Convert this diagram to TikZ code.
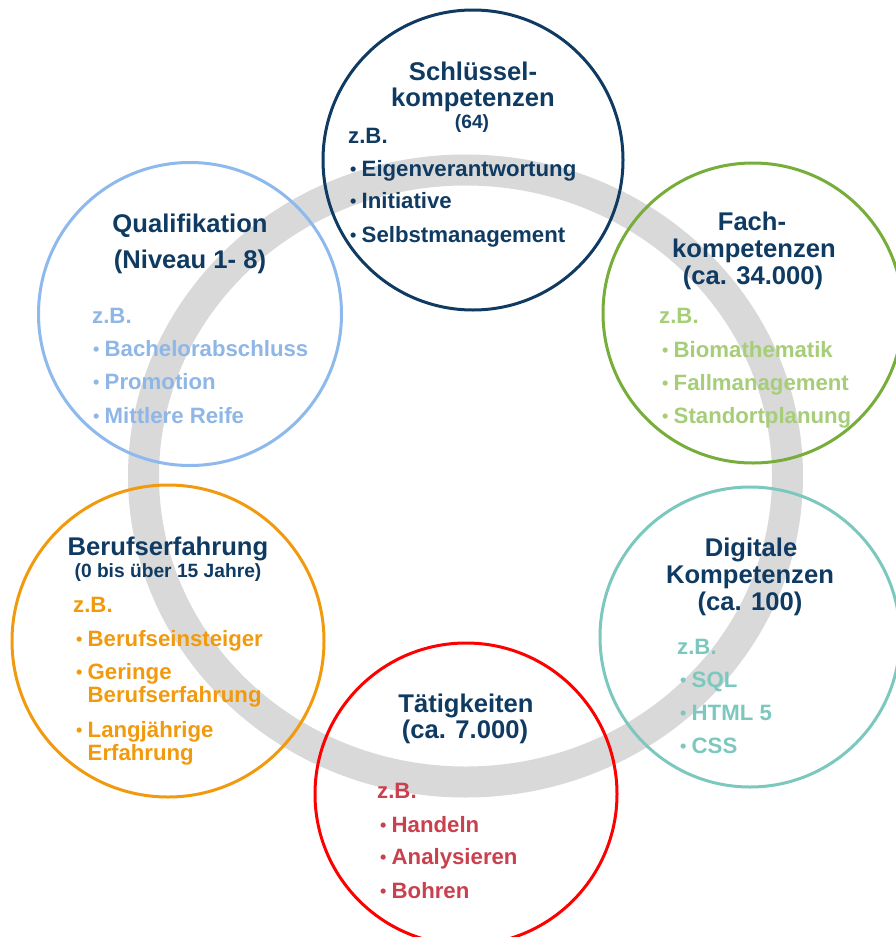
\documentclass[tikz,border=0pt]{standalone}
\usepackage{fontspec}
\setmainfont{Liberation Sans}
\definecolor{navy}{HTML}{0F3B63}
\definecolor{ringgray}{HTML}{D9D9D9}
\definecolor{qblue}{HTML}{8DB9EC}
\definecolor{qtext}{HTML}{8EB6E6}
\definecolor{fgreen}{HTML}{77AD3A}
\definecolor{ftext}{HTML}{A6CE78}
\definecolor{borange}{HTML}{F29A0E}
\definecolor{dteal}{HTML}{7CC8BF}
\definecolor{tred}{HTML}{FF0000}
\definecolor{ttext}{HTML}{C9404E}
\newcommand{\bul}{\makebox[11.5pt][l]{\fontsize{18}{18}\selectfont\raisebox{1pt}{•}}}
\begin{document}
\begin{tikzpicture}[x=1pt,y=-1pt,
  ttl/.style={anchor=base, inner sep=0pt, text=navy, font=\bfseries\fontsize{25.6}{27}\selectfont},
  sub/.style={anchor=base, inner sep=0pt, text=navy, font=\bfseries\fontsize{19.2}{20}\selectfont},
  itm/.style={anchor=base west, inner sep=0pt, font=\bfseries\fontsize{22.2}{23}\selectfont},
  bigcirc/.style={circle, draw, line width=3pt, inner sep=0pt, minimum size=#1}
]
\useasboundingbox (0,0) rectangle (895,937);
\fill[white] (0,0) rectangle (895,937);
% grey ring
\draw[line width=31pt, ringgray] (465.5,476) ellipse [x radius=322, y radius=306];

% circles
\node[bigcirc=300pt, draw=navy] (cS) at (473,160) {};
\node[bigcirc=303pt, draw=qblue] (cQ) at (190,314) {};
\node[bigcirc=300pt, draw=fgreen] (cF) at (753,313) {};
\node[bigcirc=312pt, draw=borange] (cB) at (168,641) {};
\node[bigcirc=300pt, draw=dteal] (cD) at (750,637) {};
\node[bigcirc=302pt, draw=tred] (cT) at (466,794) {};

% Schluesselkompetenzen
\node[ttl] (s0a) at (473,80) {Schlüssel-};
\node[ttl] (s0b) at (473,106) {kompetenzen};
\node[sub] (s0c) at (472,128) {(64)};
\node[itm, text=navy] (sz) at (348,143) {z.B.};
\node[itm, text=navy] (s1) at (350,176) {\bul Eigenverantwortung};
\node[itm, text=navy] (s2) at (350,208) {\bul Initiative};
\node[itm, text=navy] (s3) at (350,242) {\bul Selbstmanagement};

% Qualifikation
\node[ttl] (q0a) at (190,232) {Qualifikation};
\node[ttl] (q0b) at (190,268) {(Niveau 1- 8)};
\node[itm, text=qtext] (qz) at (92,323) {z.B.};
\node[itm, text=qtext] (q1) at (93,356) {\bul Bachelorabschluss};
\node[itm, text=qtext] (q2) at (93,389) {\bul Promotion};
\node[itm, text=qtext] (q3) at (93,423) {\bul Mittlere Reife};

% Fachkompetenzen
\node[ttl] (f0a) at (752,230) {Fach-};
\node[ttl] (f0b) at (754,257) {kompetenzen};
\node[ttl] (f0c) at (753,284) {(ca. 34.000)};
\node[itm, text=ftext] (fz) at (659,323) {z.B.};
\node[itm, text=ftext] (f1) at (662,357) {\bul Biomathematik};
\node[itm, text=ftext] (f2) at (662,390) {\bul Fallmanagement};
\node[itm, text=ftext] (f3) at (662,423) {\bul Standortplanung};

% Berufserfahrung
\node[ttl] (b0a) at (168,555) {Berufserfahrung};
\node[sub] (b0b) at (168,577) {(0 bis über 15 Jahre)};
\node[itm, text=borange] (bz) at (73,612) {z.B.};
\node[itm, text=borange] (b1) at (76,646) {\bul Berufseinsteiger};
\node[itm, text=borange] (b2) at (76,679) {\bul Geringe};
\node[itm, text=borange] (b2b) at (87.5,702) {Berufserfahrung};
\node[itm, text=borange] (b3) at (76,737) {\bul Langjährige};
\node[itm, text=borange] (b3b) at (87.5,760) {Erfahrung};

% Digitale Kompetenzen
\node[ttl] (d0a) at (751,556) {Digitale};
\node[ttl] (d0b) at (750,583) {Kompetenzen};
\node[ttl] (d0c) at (750,610) {(ca. 100)};
\node[itm, text=dteal] (dz) at (677,654) {z.B.};
\node[itm, text=dteal] (d1) at (680,687) {\bul SQL};
\node[itm, text=dteal] (d2) at (680,720) {\bul HTML 5};
\node[itm, text=dteal] (d3) at (680,753) {\bul CSS};

% Taetigkeiten
\node[ttl] (t0a) at (466,712) {Tätigkeiten};
\node[ttl] (t0b) at (465,738) {(ca. 7.000)};
\node[itm, text=ttext] (tz) at (377,798) {z.B.};
\node[itm, text=ttext] (t1) at (380,832) {\bul Handeln};
\node[itm, text=ttext] (t2) at (380,864) {\bul Analysieren};
\node[itm, text=ttext] (t3) at (380,898) {\bul Bohren};
\end{tikzpicture}
\end{document}
